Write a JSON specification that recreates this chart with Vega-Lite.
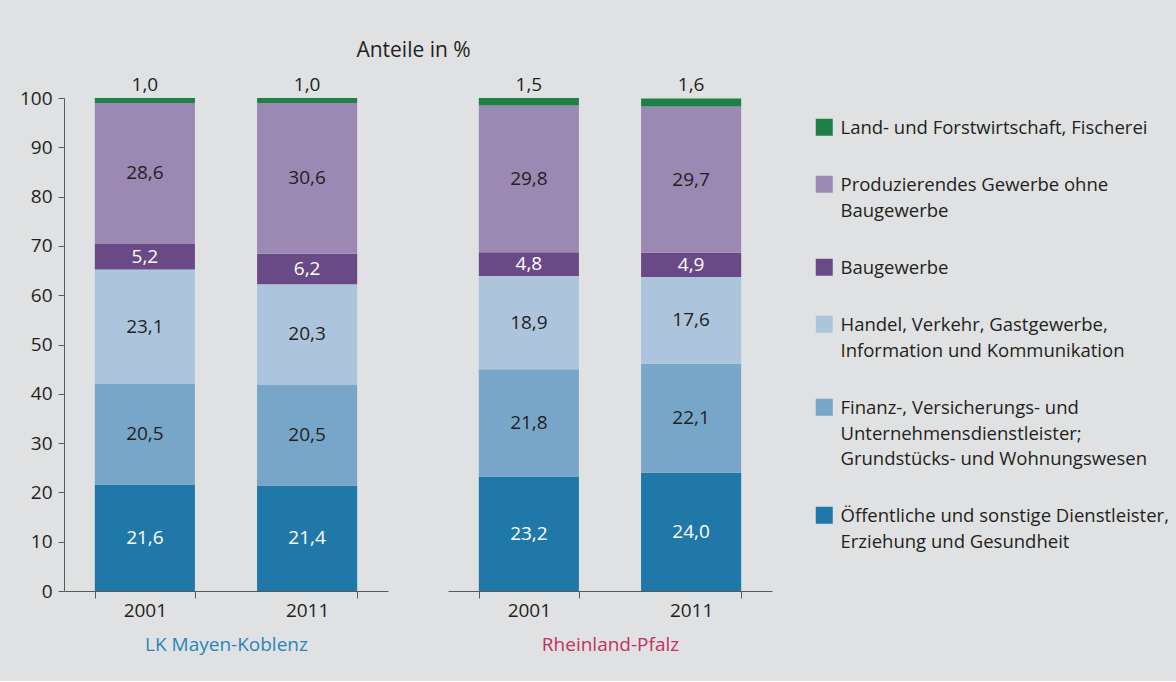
{
  "$schema": "https://vega.github.io/schema/vega-lite/v6.json",
  "background": "#e0e1e3",
  "padding": {"left": 19, "top": 40, "right": 0, "bottom": 27},
  "title": {"text": "Anteile in %", "anchor": "start", "dx": 337, "fontSize": 21, "fontWeight": "normal", "font": "Open Sans", "color": "#231f20", "offset": 15},
  "data": {"values": [
    {"region": "LK Mayen-Koblenz", "year": "2001", "sector": "Öffentliche und sonstige Dienstleister, Erziehung und Gesundheit", "rank": 1, "value": 21.6},
    {"region": "LK Mayen-Koblenz", "year": "2001", "sector": "Finanz-, Versicherungs- und Unternehmensdienstleister; Grundstücks- und Wohnungswesen", "rank": 2, "value": 20.5},
    {"region": "LK Mayen-Koblenz", "year": "2001", "sector": "Handel, Verkehr, Gastgewerbe, Information und Kommunikation", "rank": 3, "value": 23.1},
    {"region": "LK Mayen-Koblenz", "year": "2001", "sector": "Baugewerbe", "rank": 4, "value": 5.2},
    {"region": "LK Mayen-Koblenz", "year": "2001", "sector": "Produzierendes Gewerbe ohne Baugewerbe", "rank": 5, "value": 28.6},
    {"region": "LK Mayen-Koblenz", "year": "2001", "sector": "Land- und Forstwirtschaft, Fischerei", "rank": 6, "value": 1.0},
    {"region": "LK Mayen-Koblenz", "year": "2011", "sector": "Öffentliche und sonstige Dienstleister, Erziehung und Gesundheit", "rank": 1, "value": 21.4},
    {"region": "LK Mayen-Koblenz", "year": "2011", "sector": "Finanz-, Versicherungs- und Unternehmensdienstleister; Grundstücks- und Wohnungswesen", "rank": 2, "value": 20.5},
    {"region": "LK Mayen-Koblenz", "year": "2011", "sector": "Handel, Verkehr, Gastgewerbe, Information und Kommunikation", "rank": 3, "value": 20.3},
    {"region": "LK Mayen-Koblenz", "year": "2011", "sector": "Baugewerbe", "rank": 4, "value": 6.2},
    {"region": "LK Mayen-Koblenz", "year": "2011", "sector": "Produzierendes Gewerbe ohne Baugewerbe", "rank": 5, "value": 30.6},
    {"region": "LK Mayen-Koblenz", "year": "2011", "sector": "Land- und Forstwirtschaft, Fischerei", "rank": 6, "value": 1.0},
    {"region": "Rheinland-Pfalz", "year": "2001", "sector": "Öffentliche und sonstige Dienstleister, Erziehung und Gesundheit", "rank": 1, "value": 23.2},
    {"region": "Rheinland-Pfalz", "year": "2001", "sector": "Finanz-, Versicherungs- und Unternehmensdienstleister; Grundstücks- und Wohnungswesen", "rank": 2, "value": 21.8},
    {"region": "Rheinland-Pfalz", "year": "2001", "sector": "Handel, Verkehr, Gastgewerbe, Information und Kommunikation", "rank": 3, "value": 18.9},
    {"region": "Rheinland-Pfalz", "year": "2001", "sector": "Baugewerbe", "rank": 4, "value": 4.8},
    {"region": "Rheinland-Pfalz", "year": "2001", "sector": "Produzierendes Gewerbe ohne Baugewerbe", "rank": 5, "value": 29.8},
    {"region": "Rheinland-Pfalz", "year": "2001", "sector": "Land- und Forstwirtschaft, Fischerei", "rank": 6, "value": 1.5},
    {"region": "Rheinland-Pfalz", "year": "2011", "sector": "Öffentliche und sonstige Dienstleister, Erziehung und Gesundheit", "rank": 1, "value": 24.0},
    {"region": "Rheinland-Pfalz", "year": "2011", "sector": "Finanz-, Versicherungs- und Unternehmensdienstleister; Grundstücks- und Wohnungswesen", "rank": 2, "value": 22.1},
    {"region": "Rheinland-Pfalz", "year": "2011", "sector": "Handel, Verkehr, Gastgewerbe, Information und Kommunikation", "rank": 3, "value": 17.6},
    {"region": "Rheinland-Pfalz", "year": "2011", "sector": "Baugewerbe", "rank": 4, "value": 4.9},
    {"region": "Rheinland-Pfalz", "year": "2011", "sector": "Produzierendes Gewerbe ohne Baugewerbe", "rank": 5, "value": 29.7},
    {"region": "Rheinland-Pfalz", "year": "2011", "sector": "Land- und Forstwirtschaft, Fischerei", "rank": 6, "value": 1.6}
  ]},
  "spacing": 60,
  "hconcat": [
    {
      "width": 324,
      "height": 493,
      "transform": [
        {"filter": "datum.region === 'LK Mayen-Koblenz'"},
        {"calculate": "replace(format(datum.value, '.1f'), '.', ',')", "as": "label"},
        {"stack": "value", "groupby": ["year"], "sort": [{"field": "rank", "order": "ascending"}], "as": ["y0", "y1"]},
        {"calculate": "(datum.y0 + datum.y1) / 2", "as": "ymid"}
      ],
      "encoding": {
        "x": {"field": "year", "type": "nominal", "scale": {"paddingInner": 0.383, "paddingOuter": 0.19},
          "axis": {"title": "LK Mayen-Koblenz", "titleColor": "#2a86b8", "labelAngle": 0, "tickBand": "extent", "tickSize": 7, "labelPadding": 3, "titlePadding": 15}}
      },
      "layer": [
        {
          "mark": {"type": "bar"},
          "encoding": {
            "y": {"field": "y0", "type": "quantitative", "scale": {"domain": [0, 100], "nice": false},
              "axis": {"title": null, "values": [0, 10, 20, 30, 40, 50, 60, 70, 80, 90, 100], "tickSize": 6, "labelPadding": 6}},
            "y2": {"field": "y1"},
            "color": {"field": "sector", "type": "nominal",
              "scale": {"domain": ["Land- und Forstwirtschaft, Fischerei", "Produzierendes Gewerbe ohne Baugewerbe", "Baugewerbe", "Handel, Verkehr, Gastgewerbe, Information und Kommunikation", "Finanz-, Versicherungs- und Unternehmensdienstleister; Grundstücks- und Wohnungswesen", "Öffentliche und sonstige Dienstleister, Erziehung und Gesundheit"],
                "range": ["#1f8045", "#9b88b3", "#694a86", "#adc5dc", "#78a6c8", "#1f78a8"]},
              "legend": {"title": null, "orient": "right", "offset": 23, "padding": 20, "symbolType": "square", "symbolSize": 289, "symbolStrokeWidth": 0, "labelFontSize": 18.5, "labelColor": "#231f20", "labelLimit": 0, "labelOffset": 7, "rowPadding": 37, "labelBaseline": "top",
                "encoding": {"labels": {"dy": {"value": -8}}},
                "labelExpr": "datum.label === 'Produzierendes Gewerbe ohne Baugewerbe' ? ['Produzierendes Gewerbe ohne', 'Baugewerbe'] : datum.label === 'Handel, Verkehr, Gastgewerbe, Information und Kommunikation' ? ['Handel, Verkehr, Gastgewerbe,', 'Information und Kommunikation'] : datum.label === 'Finanz-, Versicherungs- und Unternehmensdienstleister; Grundstücks- und Wohnungswesen' ? ['Finanz-, Versicherungs- und', 'Unternehmensdienstleister;', 'Grundstücks- und Wohnungswesen'] : datum.label === 'Öffentliche und sonstige Dienstleister, Erziehung und Gesundheit' ? ['Öffentliche und sonstige Dienstleister,', 'Erziehung und Gesundheit'] : datum.label"}}
          }
        },
        {
          "transform": [{"filter": "datum.rank < 6"}],
          "mark": {"type": "text", "fontSize": 19, "baseline": "middle"},
          "encoding": {
            "y": {"field": "ymid", "type": "quantitative"},
            "text": {"field": "label"},
            "color": {"condition": {"test": "datum.rank === 1 || datum.rank === 4", "value": "#ffffff"}, "value": "#231f20"}
          }
        },
        {
          "transform": [{"filter": "datum.rank === 6"}],
          "mark": {"type": "text", "fontSize": 19, "baseline": "bottom", "dy": -3, "color": "#231f20"},
          "encoding": {
            "y": {"field": "y1", "type": "quantitative"},
            "text": {"field": "label"}
          }
        }
      ]
    },
    {
      "width": 324,
      "height": 493,
      "transform": [
        {"filter": "datum.region === 'Rheinland-Pfalz'"},
        {"calculate": "replace(format(datum.value, '.1f'), '.', ',')", "as": "label"},
        {"stack": "value", "groupby": ["year"], "sort": [{"field": "rank", "order": "ascending"}], "as": ["y0", "y1"]},
        {"calculate": "(datum.y0 + datum.y1) / 2", "as": "ymid"}
      ],
      "encoding": {
        "x": {"field": "year", "type": "nominal", "scale": {"paddingInner": 0.383, "paddingOuter": 0.19},
          "axis": {"title": "Rheinland-Pfalz", "titleColor": "#c2325f", "labelAngle": 0, "tickBand": "extent", "tickSize": 7, "labelPadding": 3, "titlePadding": 15}}
      },
      "layer": [
        {
          "mark": {"type": "bar"},
          "encoding": {
            "y": {"field": "y0", "type": "quantitative", "scale": {"domain": [0, 100], "nice": false}, "axis": null},
            "y2": {"field": "y1"},
            "color": {"field": "sector", "type": "nominal"}
          }
        },
        {
          "transform": [{"filter": "datum.rank < 6"}],
          "mark": {"type": "text", "fontSize": 19, "baseline": "middle"},
          "encoding": {
            "y": {"field": "ymid", "type": "quantitative"},
            "text": {"field": "label"},
            "color": {"condition": {"test": "datum.rank === 1 || datum.rank === 4", "value": "#ffffff"}, "value": "#231f20"}
          }
        },
        {
          "transform": [{"filter": "datum.rank === 6"}],
          "mark": {"type": "text", "fontSize": 19, "baseline": "bottom", "dy": -3, "color": "#231f20"},
          "encoding": {
            "y": {"field": "y1", "type": "quantitative"},
            "text": {"field": "label"}
          }
        }
      ]
    }
  ],
  "config": {
    "font": "Open Sans",
    "view": {"stroke": null},
    "axis": {"labelFontSize": 19, "labelColor": "#231f20", "labelFont": "Open Sans", "domainColor": "#5a5a5a", "tickColor": "#5a5a5a", "titleFontWeight": "normal", "titleFontSize": 19, "titleFont": "Open Sans", "grid": false},
    "legend": {"labelFont": "Open Sans"},
    "text": {"font": "Open Sans"},
    "style": {"guide-label": {"lineHeight": 25.5}}
  }
}
